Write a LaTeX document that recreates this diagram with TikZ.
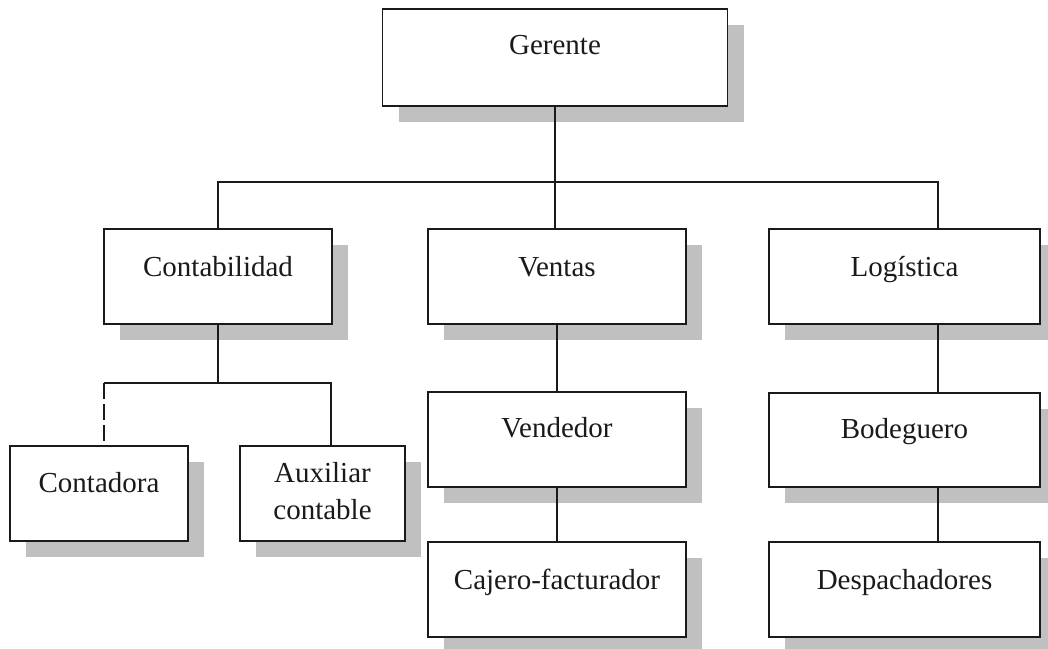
\documentclass[tikz,border=0pt]{standalone}
\usepackage{fontspec}
\setmainfont{Liberation Serif}
\usetikzlibrary{shadows,calc}
\definecolor{shadowgray}{HTML}{C0C0C0}
\definecolor{ink}{HTML}{1A1A1A}
\begin{document}
\begin{tikzpicture}[x=1pt,y=-1pt,
  box/.style={draw=ink, line width=1.5pt, fill=white, inner sep=0pt,
    drop shadow={shadow xshift=16pt, shadow yshift=-16pt, fill=shadowgray, opacity=1}},
  lbl/.style={anchor=base, inner sep=0pt, text=ink, align=center,
    font=\fontsize{29}{37}\selectfont},
  conn/.style={draw=ink, line width=1.5pt},
  dconn/.style={conn, dash pattern=on 16pt off 5pt}]
\useasboundingbox (0,0) rectangle (1048,648);
% boxes
\node[box, minimum width=345pt, minimum height=97pt] (ger) at (555,57.5) {};
\node[box, minimum width=228pt, minimum height=95pt] (con) at (218,276.5) {};
\node[box, minimum width=258pt, minimum height=95pt] (ven) at (557,276.5) {};
\node[box, minimum width=271pt, minimum height=95pt] (log) at (904.5,276.5) {};
\node[box, minimum width=258pt, minimum height=95pt] (vend) at (557,439.5) {};
\node[box, minimum width=258pt, minimum height=95pt] (caj) at (557,589.5) {};
\node[box, minimum width=271pt, minimum height=94pt] (bod) at (904.5,440) {};
\node[box, minimum width=271pt, minimum height=95pt] (des) at (904.5,589.5) {};
\node[box, minimum width=178pt, minimum height=95pt] (cont) at (99,493.5) {};
\node[box, minimum width=165pt, minimum height=95pt] (aux) at (322.5,493.5) {};
% labels
\node[lbl] (gerT) at ($(ger.north)+(0,46)$) {Gerente};
\node[lbl] (conT) at ($(con.north)+(0,48)$) {Contabilidad};
\node[lbl] (venT) at ($(ven.north)+(0,48)$) {Ventas};
\node[lbl] (logT) at ($(log.north)+(0,48)$) {Logística};
\node[lbl] (vendT) at ($(vend.north)+(0,46)$) {Vendedor};
\node[lbl] (cajT) at ($(caj.north)+(0,48)$) {Cajero-facturador};
\node[lbl] (bodT) at ($(bod.north)+(0,46)$) {Bodeguero};
\node[lbl] (desT) at ($(des.north)+(0,48)$) {Despachadores};
\node[lbl] (contT) at ($(cont.north)+(0,47)$) {Contadora};
\node[lbl] (auxT1) at ($(aux.north)+(0,37)$) {Auxiliar};
\node[lbl] (auxT2) at ($(aux.north)+(0,74)$) {contable};
% connector points
\coordinate (busR) at (938,182);
\coordinate (cbus) at (218,383);
\coordinate (cbusL) at (104,383);
\coordinate (cbusR) at (331,383);
% connectors
\draw[conn] (ger.south) -- (ger.south |- ven.north);
\draw[conn] (con.north) |- (busR) -- (busR |- log.north);
\draw[conn] (ven.south) -- (vend.north);
\draw[conn] (vend.south) -- (caj.north);
\draw[conn] (busR |- log.south) -- (busR |- bod.north);
\draw[conn] (busR |- bod.south) -- (busR |- des.north);
\draw[conn] (con.south) -- (cbus);
\draw[conn] (cbusL) -- (cbusR) -- (cbusR |- aux.north);
\draw[dconn] (cbusL) -- (cbusL |- cont.north);
\end{tikzpicture}
\end{document}
